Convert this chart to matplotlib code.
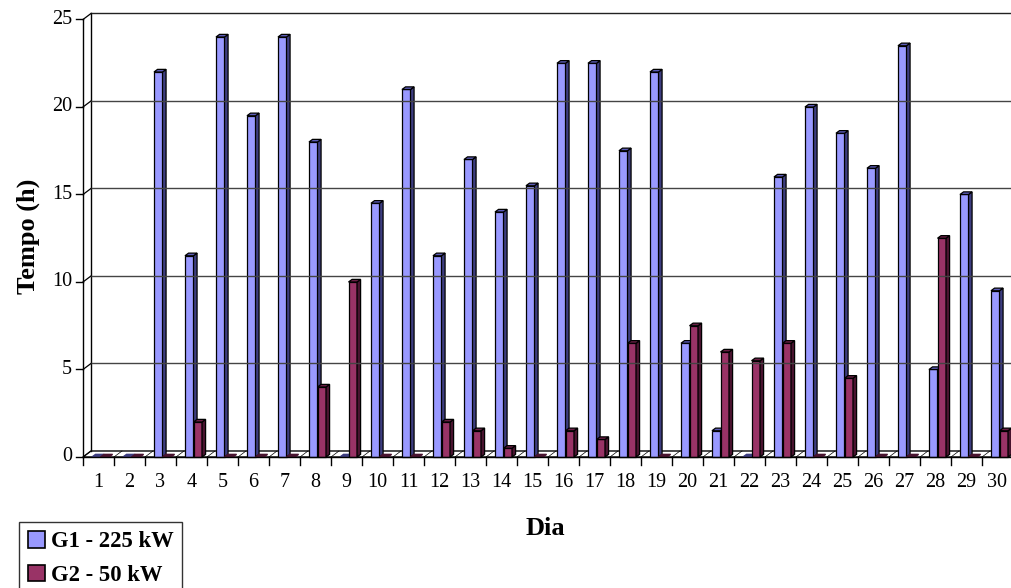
import matplotlib
matplotlib.use("Agg")
import matplotlib.pyplot as plt
from matplotlib.patches import Polygon, Rectangle, Patch

plt.rcParams["font.family"] = ["Liberation Serif", "DejaVu Serif"]

# Daily operating time of each generator (hours)
dias = list(range(1, 31))
g1_horas = [0, 0, 22, 11.5, 24, 19.5, 24, 18, 0, 14.5,
            21, 11.5, 17, 14, 15.5, 22.5, 22.5, 17.5, 22, 6.5,
            1.5, 0, 16, 20, 18.5, 16.5, 23.5, 5, 15, 9.5]
g2_horas = [0, 0, 0, 2, 0, 0, 0, 4, 10, 0,
            0, 2, 1.5, 0.5, 0, 1.5, 1, 6.5, 0, 7.5,
            6, 5.5, 6.5, 0, 4.5, 0, 0, 12.5, 0, 1.5]
y_ticks = [0, 5, 10, 15, 20, 25]
serie_nomes = ["G1 - 225 kW", "G2 - 50 kW"]

# colours: front face, side face, top face
cores_g1 = ("#9999FF", "#3D3D80", "#5C5CB8")
cores_g2 = ("#993366", "#4A1430", "#6A1E45")

fig = plt.figure(figsize=(10.12, 5.88), dpi=100)
ax = fig.add_axes([0, 0, 1, 1])
# one category = 31 px, one hour = 17.5 px
ax.set_xlim(-2.177, 30.468)
ax.set_ylim(-7.486, 26.114)
ax.axis("off")

n = len(dias)
ymax = y_ticks[-1]
DX, DY = 0.258, 0.343        # depth of the chart box
BW = 0.275                   # bar width
BDX, BDY = 0.115, 0.15       # depth of each bar
LC = "black"

# back wall outline and gridlines
x_back = 0.5 + DX
x_end = n + 0.5 + 0.6
ax.plot([x_back, x_back], [DY, ymax + DY], color=LC, lw=1.0)
for t in y_ticks[1:]:
    ax.plot([x_back, x_end], [t + DY, t + DY],
            color="#222222" if t == ymax else "#444444", lw=1.0)
    ax.plot([0.5, x_back], [t, t + DY], color=LC, lw=0.9)

# floor
floor = Polygon([(0.5, 0), (x_end, 0), (x_end + DX, DY), (x_back, DY)],
                closed=True, facecolor="white", edgecolor=LC, lw=1.0)
ax.add_patch(floor)
for k in range(n + 1):
    ax.plot([0.5 + k, 0.5 + k + DX], [0, DY], color=LC, lw=0.5)

# front value axis with ticks
ax.plot([0.5, 0.5], [0, ymax], color=LC, lw=1.0)
for t in y_ticks:
    ax.plot([0.5 - 0.22, 0.5], [t, t], color=LC, lw=1.0)
    ax.text(0.145, t, str(t), ha="right", va="center", fontsize=14.5)

# category axis ticks and labels
ax.plot([0.5, n + 0.5], [0, 0], color=LC, lw=1.0)
for k in range(n + 1):
    ax.plot([0.5 + k, 0.5 + k], [0, -0.46], color=LC, lw=1.0)
for d in dias:
    ax.text(d, -1.43, str(d), ha="center", va="center", fontsize=14.5)


def barra(xl, v, cores):
    face, lado, topo = cores
    if v > 0:
        ax.add_patch(Rectangle((xl, 0), BW, v, facecolor=face,
                               edgecolor=LC, lw=0.9))
        ax.add_patch(Polygon([(xl + BW, 0), (xl + BW + BDX, BDY),
                              (xl + BW + BDX, v + BDY), (xl + BW, v)],
                             closed=True, facecolor=lado, edgecolor=LC, lw=0.9))
        ax.add_patch(Polygon([(xl, v), (xl + BDX, v + BDY),
                              (xl + BW + BDX, v + BDY), (xl + BW, v)],
                             closed=True, facecolor=topo, edgecolor=LC, lw=0.9))
    else:
        ax.add_patch(Polygon([(xl, 0), (xl + BDX, BDY),
                              (xl + BW + BDX, BDY), (xl + BW, 0)],
                             closed=True, facecolor=lado, edgecolor=lado, lw=1.0))


for d, a, b in zip(dias, g1_horas, g2_horas):
    xl = d - 0.21
    barra(xl, a, cores_g1)
    barra(xl + BW, b, cores_g2)

# axis titles
ax.text(-1.274, 12.63, "Tempo (h)", rotation=90, ha="center", va="center",
        fontsize=19, fontweight="bold")
ax.text(15.403, -4.06, "Dia", ha="center", va="center",
        fontsize=19, fontweight="bold")

# legend
handles = [Patch(facecolor=cores_g1[0], edgecolor=LC, lw=1.2),
           Patch(facecolor=cores_g2[0], edgecolor=LC, lw=1.2)]
leg = fig.legend(handles, serie_nomes, loc="upper left",
                 bbox_to_anchor=(19 / 1012, 1 - 522 / 588),
                 prop={"size": 16.3, "weight": "bold"},
                 frameon=True, fancybox=False, shadow=False,
                 handlelength=0.75, handleheight=0.75, handletextpad=0.25,
                 labelspacing=0.55, borderpad=0.4, borderaxespad=0.0)
leg.get_frame().set_edgecolor(LC)
leg.get_frame().set_linewidth(1.0)

fig.savefig("out.png", dpi=100)
